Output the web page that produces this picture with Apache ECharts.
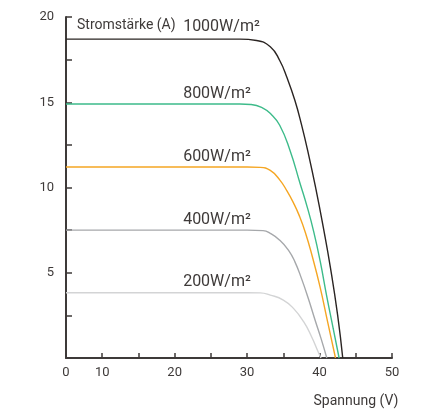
<!DOCTYPE html>
<html>
<head>
<meta charset="utf-8">
<script src="https://cdn.jsdelivr.net/npm/echarts@6/dist/echarts.min.js"></script>
<style>
html,body{margin:0;padding:0;background:#fff;}
#chart{width:432px;height:410px;}
</style>
</head>
<body>
<div id="chart"></div>
<script>
// Series names (irradiance levels)
const seriesNames = ['1000W/m²', '800W/m²', '600W/m²', '400W/m²', '200W/m²'];
// I-V curves: [voltage (V), current (A)]
const curve1000 = [[5,18.7],[20,18.7],[29,18.7],[31.3,18.62],[33.2,18.26],[34.5,17.45],[35.5,16.45],[36.6,15.1],[37.5,13.7],[38.5,11.9],[39.5,9.9],[40.5,7.7],[41.5,5.3],[42.5,2.5],[43.2,0]];
const curve800 = [[5,14.9],[20,14.9],[29,14.9],[30.5,14.87],[32.0,14.7],[33.3,14.3],[34.5,13.65],[35.9,12.2],[37.3,10.25],[38.3,8.85],[39.2,7.4],[40.1,5.65],[41.0,3.6],[41.9,1.7],[42.7,0]];
const curve600 = [[5,11.2],[20,11.2],[30,11.2],[31.8,11.18],[33.2,11.0],[34.5,10.45],[35.5,9.8],[36.4,9.1],[37.2,8.35],[38.05,7.35],[39.0,5.95],[40.05,4.2],[41.1,2.15],[42.2,0]];
const curve400 = [[5,7.5],[20,7.5],[30,7.5],[32.2,7.47],[33.2,7.31],[34.5,6.91],[35.7,6.33],[36.6,5.64],[37.5,4.67],[38.45,3.49],[39.4,2.2],[40.2,1.15],[41.0,0]];
const curve200 = [[5,3.83],[20,3.83],[30,3.83],[31.8,3.82],[33.2,3.69],[35.0,3.4],[36.4,2.91],[37.8,2.13],[38.9,1.25],[39.8,0.37],[40.2,0]];
const curves = [curve1000, curve800, curve600, curve400, curve200];
// Tick label texts on the voltage axis (tick value -> shown text)
const xTickValues = [5, 10, 20, 30, 40, 50];
const xTickTexts = ['0', '10', '20', '30', '40', '50'];
const yTickTexts = ['5', '10', '15', '20'];

const colors = ['#2a2422', '#3dbb8a', '#f5a623', '#a6a8ab', '#d3d4d5'];
const labelOffsets = [12, 10, 10, 10, 11];
const labelVolt = 21.1;
const axisColor = '#3e3a39';
const font = 'Roboto, "Noto Sans", sans-serif';

const chart = echarts.init(document.getElementById('chart'), null, {renderer: 'canvas'});

const series = curves.map((c, i) => ({
  name: seriesNames[i],
  type: 'line',
  data: c,
  smooth: 0.5,
  showSymbol: false,
  symbol: 'none',
  lineStyle: {color: colors[i], width: 1.4},
  itemStyle: {color: colors[i]},
  z: 10 - i,
  markPoint: {
    silent: true,
    symbol: 'circle',
    symbolSize: 1,
    itemStyle: {color: 'rgba(0,0,0,0)'},
    label: {
      show: true,
      position: 'right',
      distance: 0,
      offset: [0, -labelOffsets[i]],
      formatter: seriesNames[i],
      fontSize: 16,
      color: axisColor,
      fontFamily: font
    },
    data: [{coord: [labelVolt, c[0][1]]}]
  }
}));

const option = {
  animation: false,
  grid: {left: 66, right: 40, top: 17, bottom: 52, containLabel: false},
  xAxis: {
    type: 'value',
    min: 5, max: 50, interval: 5,
    name: 'Spannung (V)',
    nameLocation: 'end',
    nameGap: -36,
    nameTextStyle: {color: axisColor, fontSize: 14, fontFamily: font, align: 'center', verticalAlign: 'top', padding: [36, 0, 0, 0]},
    axisLine: {show: true, lineStyle: {color: axisColor, width: 2}},
    axisTick: {show: true, inside: true, length: 5, lineStyle: {color: axisColor, width: 1.5}},
    axisLabel: {
      color: axisColor, fontSize: 13, margin: 8, fontFamily: font,
      formatter: v => { const k = xTickValues.indexOf(v); return k >= 0 ? xTickTexts[k] : ''; }
    },
    splitLine: {show: false}
  },
  yAxis: {
    type: 'value',
    min: 0, max: 20, interval: 2.5,
    name: 'Stromstärke (A)',
    nameLocation: 'end',
    nameGap: -8,
    nameTextStyle: {color: axisColor, fontSize: 14, fontFamily: font, align: 'left', verticalAlign: 'middle', padding: [0, 0, 0, 11]},
    axisLine: {show: true, lineStyle: {color: axisColor, width: 2}},
    axisTick: {show: true, inside: true, length: 6, lineStyle: {color: axisColor, width: 1.5}},
    axisLabel: {
      color: axisColor, fontSize: 13, margin: 12, fontFamily: font,
      formatter: v => yTickTexts.indexOf(String(v)) >= 0 ? String(v) : ''
    },
    splitLine: {show: false}
  },
  series: series
};
chart.setOption(option);
</script>
</body>
</html>
